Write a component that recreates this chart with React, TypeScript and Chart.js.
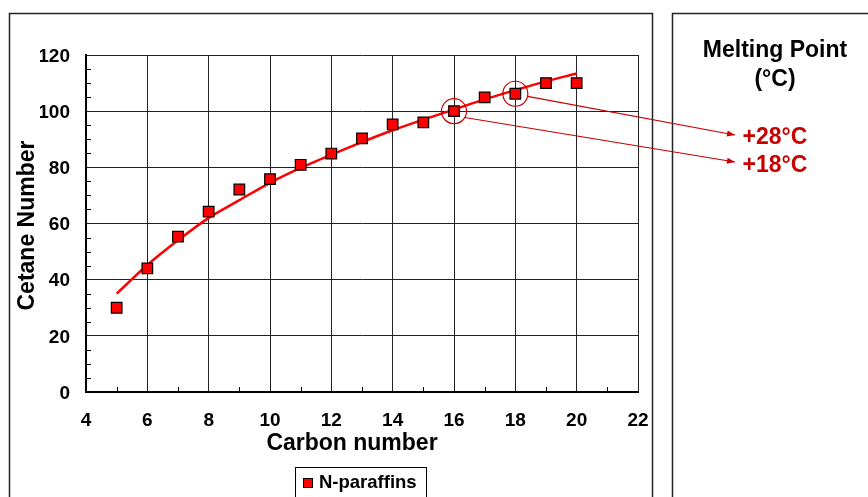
import React, { useEffect, useRef } from "react";
import { Chart, registerables } from "chart.js";

Chart.register(...registerables);

// ---- data ----
const carbonNumbers = [5, 6, 7, 8, 9, 10, 11, 12, 13, 14, 15, 16, 17, 18, 19, 20];
const cetaneNumbers = [30, 44, 55.3, 64.2, 72.1, 75.8, 80.9, 84.9, 90.3, 95.3, 96, 100, 104.9, 106.2, 110, 110];
const trendCarbon = [5, 6, 7, 8, 9, 10, 11, 12, 13, 14, 15, 16, 17, 18, 19, 20];
const trendCetane = [35, 45.2, 54, 62, 68.3, 74.5, 79.8, 84.5, 89, 93.2, 97, 100.6, 104.2, 107.5, 110.6, 113.4];
const xTickRange = [4, 22];
const yTickRange = [0, 120];
const meltingCarbon = [18, 16];
const meltingLabels = ["+28°C", "+18°C"];
const legendLabel = "N-paraffins";
const xTitle = "Carbon number";
const yTitle = "Cetane Number";
const panelTitle = ["Melting Point", "(°C)"];

const FONT = '"Liberation Sans", Arial, Helvetica, sans-serif';
const W = 868;
const H = 497;
const RED = "#ff0000";
const DARKRED = "#c80000";

const decor = {
  id: "decor",
  beforeDraw(chart: any) {
    const ctx = chart.ctx;
    ctx.save();
    ctx.fillStyle = "#ffffff";
    ctx.fillRect(0, 0, W, H);
    ctx.strokeStyle = "#222";
    ctx.lineWidth = 1.5;
    ctx.beginPath();
    ctx.moveTo(9.5, H + 10);
    ctx.lineTo(9.5, 13.5);
    ctx.lineTo(652.5, 13.5);
    ctx.lineTo(652.5, H + 10);
    ctx.stroke();
    ctx.beginPath();
    ctx.moveTo(672.5, H + 10);
    ctx.lineTo(672.5, 13.5);
    ctx.lineTo(W + 10, 13.5);
    ctx.stroke();
    ctx.restore();
  },
  afterDraw(chart: any) {
    const ctx = chart.ctx;
    const xs = chart.scales.x;
    const ys = chart.scales.y;
    const area = chart.chartArea;
    ctx.save();

    // minor ticks
    ctx.strokeStyle = "#000";
    ctx.lineWidth = 1;
    for (let v = yTickRange[0] + 5; v < yTickRange[1]; v += 5) {
      if (v % 20 === 0) continue;
      const py = Math.round(ys.getPixelForValue(v)) + 0.5;
      ctx.beginPath();
      ctx.moveTo(area.left, py);
      ctx.lineTo(area.left + 5, py);
      ctx.stroke();
    }
    for (let v = xTickRange[0] + 1; v < xTickRange[1]; v += 2) {
      const px = Math.round(xs.getPixelForValue(v)) + 0.5;
      ctx.beginPath();
      ctx.moveTo(px, area.bottom);
      ctx.lineTo(px, area.bottom - 5);
      ctx.stroke();
    }

    // axis titles
    ctx.fillStyle = "#000";
    ctx.font = `bold 23px ${FONT}`;
    ctx.textAlign = "center";
    ctx.textBaseline = "middle";
    ctx.fillText(xTitle, (area.left + area.right) / 2 - 10, 444);
    ctx.save();
    ctx.translate(28, (area.top + area.bottom) / 2 + 2);
    ctx.rotate(-Math.PI / 2);
    ctx.fillText(yTitle, 0, 0);
    ctx.restore();

    // legend
    ctx.strokeStyle = "#000";
    ctx.lineWidth = 1;
    ctx.strokeRect(295.5, 467.5, 131, 45);
    ctx.fillStyle = RED;
    ctx.fillRect(303.5, 478.5, 9, 9);
    ctx.strokeRect(303.5, 478.5, 9, 9);
    ctx.fillStyle = "#000";
    ctx.font = `bold 18.5px ${FONT}`;
    ctx.textAlign = "left";
    ctx.fillText(legendLabel, 319, 483);

    // panel title
    ctx.textAlign = "center";
    ctx.font = `bold 23px ${FONT}`;
    ctx.fillText(panelTitle[0], 775, 51);
    ctx.fillText(panelTitle[1], 775, 80);

    // circles, arrows and labels
    const startAngles = [0.21, 0.53];
    const ends = [
      [735, 135],
      [735, 162],
    ];
    meltingCarbon.forEach((c, i) => {
      const idx = carbonNumbers.indexOf(c);
      const cx = xs.getPixelForValue(c);
      const cy = ys.getPixelForValue(cetaneNumbers[idx]);
      const r = 12.5;
      ctx.strokeStyle = DARKRED;
      ctx.lineWidth = 1.2;
      ctx.beginPath();
      ctx.arc(cx, cy, r, 0, Math.PI * 2);
      ctx.stroke();
      const sx = cx + r * Math.cos(startAngles[i]);
      const sy = cy + r * Math.sin(startAngles[i]);
      const [ex, ey] = ends[i];
      ctx.beginPath();
      ctx.moveTo(sx, sy);
      ctx.lineTo(ex, ey);
      ctx.stroke();
      const ang = Math.atan2(ey - sy, ex - sx);
      const L = 8;
      const Wd = 3;
      ctx.fillStyle = DARKRED;
      ctx.beginPath();
      ctx.moveTo(ex, ey);
      ctx.lineTo(ex - L * Math.cos(ang) + Wd * Math.sin(ang), ey - L * Math.sin(ang) - Wd * Math.cos(ang));
      ctx.lineTo(ex - L * Math.cos(ang) - Wd * Math.sin(ang), ey - L * Math.sin(ang) + Wd * Math.cos(ang));
      ctx.closePath();
      ctx.fill();
      ctx.font = `bold 23px ${FONT}`;
      ctx.textAlign = "center";
      ctx.fillText(meltingLabels[i], 775, i === 0 ? 138 : 166);
    });

    ctx.restore();
  },
};

export default function App() {
  const ref = useRef<HTMLCanvasElement | null>(null);

  useEffect(() => {
    if (!ref.current) return;
    Chart.defaults.font.family = FONT;
    const points = carbonNumbers.map((x, i) => ({ x, y: cetaneNumbers[i] }));
    const trend = trendCarbon.map((x, i) => ({ x, y: trendCetane[i] }));
    const chart = new Chart(ref.current, {
      type: "scatter",
      data: {
        datasets: [
          {
            label: legendLabel,
            data: points,
            pointStyle: "rect",
            pointRadius: 7.5,
            pointBackgroundColor: RED,
            pointBorderColor: "#000",
            pointBorderWidth: 1.2,
            showLine: false,
          },
          {
            label: "trend",
            data: trend,
            showLine: true,
            pointRadius: 0,
            borderColor: RED,
            borderWidth: 2.5,
            tension: 0.4,
            cubicInterpolationMode: "monotone",
          },
        ],
      },
      options: {
        responsive: false,
        animation: false,
        events: [],
        layout: { padding: { left: 40, top: 55, right: W - 638, bottom: 0 } },
        plugins: { legend: { display: false }, tooltip: { enabled: false } },
        scales: {
          x: {
            type: "linear",
            min: xTickRange[0],
            max: xTickRange[1],
            ticks: {
              stepSize: 2,
              color: "#000",
              font: { size: 19, weight: "bold" },
              padding: 17,
              maxRotation: 0,
            },
            grid: { color: "#222", lineWidth: 1, drawTicks: false },
            border: { color: "#000", width: 2 },
            afterFit: (s: any) => {
              s.height = H - 392;
            },
          },
          y: {
            min: yTickRange[0],
            max: yTickRange[1],
            ticks: {
              stepSize: 20,
              color: "#000",
              font: { size: 19, weight: "bold" },
              padding: 16,
              labelOffset: 1.5,
            },
            grid: { color: "#222", lineWidth: 1, drawTicks: false },
            border: { color: "#000", width: 2 },
            afterFit: (s: any) => {
              s.width = 86 - 40;
            },
          },
        },
      },
      plugins: [decor],
    } as any);
    return () => chart.destroy();
  }, []);

  return (
    <div style={{ position: "absolute", left: 0, top: 0, width: W, height: H, background: "#fff" }}>
      <canvas ref={ref} width={W} height={H} style={{ width: W, height: H, display: "block" }} />
    </div>
  );
}
